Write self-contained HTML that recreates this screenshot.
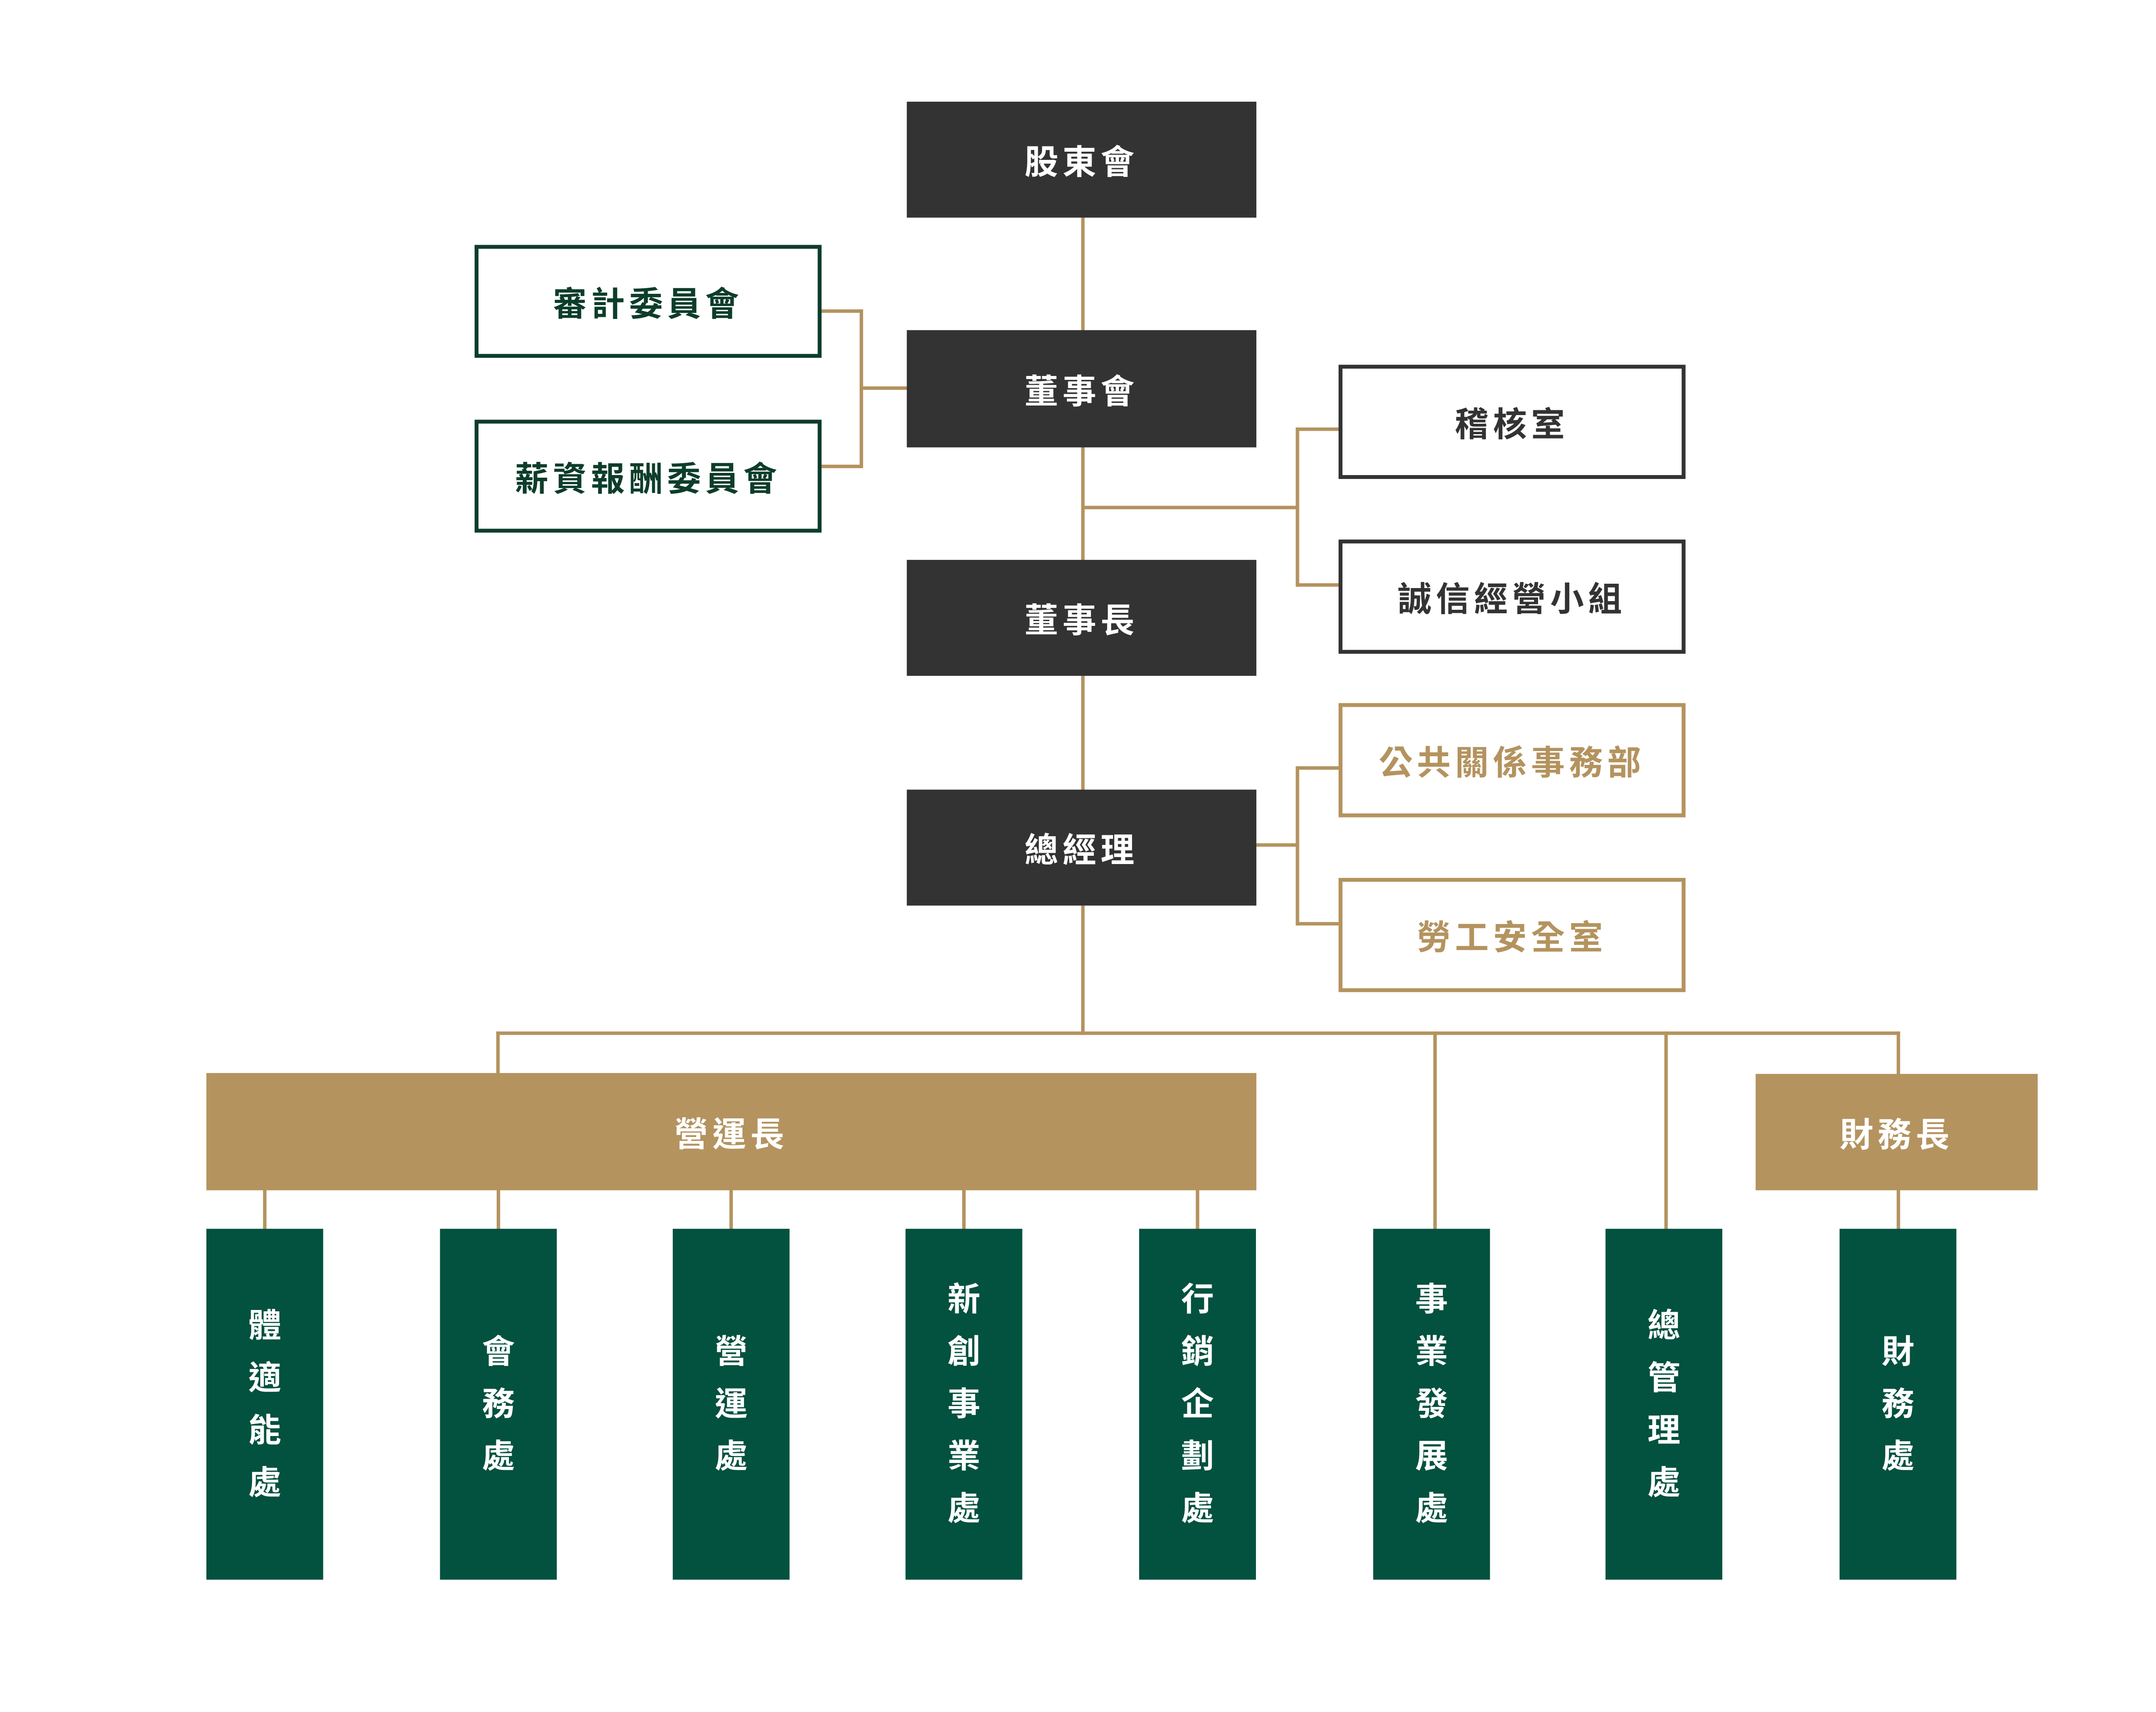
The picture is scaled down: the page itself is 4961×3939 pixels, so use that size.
<!DOCTYPE html>
<html><head><meta charset="utf-8"><style>
html,body{margin:0;padding:0;background:#fff;}
#o{position:relative;width:4961px;height:3939px;overflow:hidden;background:#fff;}
#c{position:absolute;left:0;top:0;width:4961px;height:3939px;transform:scale(0.9955);transform-origin:0 0;font-family:"Liberation Sans","Noto Sans CJK TC",sans-serif;font-weight:bold;}
.b{position:absolute;box-sizing:border-box;display:flex;align-items:center;justify-content:center;font-size:78px;letter-spacing:10px;}
.d{background:#333333;color:#fff;}
.g{border:9px solid #0d3d2b;color:#0d3d2b;background:#fff;}
.k{border:9px solid #333;color:#333;background:#fff;}
.o{border:9px solid #b4935f;color:#b4935f;background:#fff;}
.t{background:#b4935f;color:#fff;}
.v{background:#03513f;color:#fff;flex-direction:column;line-height:121px;font-size:76px;letter-spacing:0;}
.l{position:absolute;background:#b4935f;}
</style></head><body><div id="o"><div id="c">
<div class="l" style="left:2499px;top:503px;width:8px;height:1330px"></div>
<div class="l" style="left:2499px;top:2093px;width:8px;height:299px"></div>
<div class="l" style="left:1899px;top:715px;width:96px;height:8px"></div>
<div class="l" style="left:1899px;top:1074px;width:96px;height:8px"></div>
<div class="l" style="left:1987px;top:715px;width:8px;height:367px"></div>
<div class="l" style="left:1987px;top:893px;width:110px;height:8px"></div>
<div class="l" style="left:2503px;top:1169px;width:500px;height:8px"></div>
<div class="l" style="left:2995px;top:988px;width:8px;height:368px"></div>
<div class="l" style="left:2995px;top:988px;width:100px;height:8px"></div>
<div class="l" style="left:2995px;top:1348px;width:100px;height:8px"></div>
<div class="l" style="left:2904px;top:1949px;width:95px;height:8px"></div>
<div class="l" style="left:2995px;top:1771px;width:8px;height:368px"></div>
<div class="l" style="left:2995px;top:1771px;width:100px;height:8px"></div>
<div class="l" style="left:2995px;top:2131px;width:100px;height:8px"></div>
<div class="l" style="left:1147px;top:2384px;width:3245px;height:8px"></div>
<div class="l" style="left:1147px;top:2384px;width:8px;height:100px"></div>
<div class="l" style="left:3313px;top:2384px;width:8px;height:460px"></div>
<div class="l" style="left:3847px;top:2384px;width:8px;height:460px"></div>
<div class="l" style="left:4384px;top:2384px;width:8px;height:100px"></div>
<div class="l" style="left:4384px;top:2750px;width:8px;height:94px"></div>
<div class="l" style="left:608px;top:2750px;width:8px;height:94px"></div>
<div class="l" style="left:1148px;top:2750px;width:8px;height:94px"></div>
<div class="l" style="left:1686px;top:2750px;width:8px;height:94px"></div>
<div class="l" style="left:2224px;top:2750px;width:8px;height:94px"></div>
<div class="l" style="left:2764px;top:2750px;width:8px;height:94px"></div>
<div class="b d" style="left:2096px;top:235px;width:808px;height:268px">股東會</div>
<div class="b d" style="left:2096px;top:763px;width:808px;height:271px">董事會</div>
<div class="b d" style="left:2096px;top:1294px;width:808px;height:268px">董事長</div>
<div class="b d" style="left:2096px;top:1825px;width:808px;height:268px">總經理</div>
<div class="b g" style="left:1097px;top:566px;width:802px;height:261px">審計委員會</div>
<div class="b g" style="left:1097px;top:970px;width:802px;height:261px">薪資報酬委員會</div>
<div class="b k" style="left:3094px;top:843px;width:802px;height:264px">稽核室</div>
<div class="b k" style="left:3094px;top:1247px;width:802px;height:264px">誠信經營小組</div>
<div class="b o" style="left:3094px;top:1625px;width:802px;height:264px">公共關係事務部</div>
<div class="b o" style="left:3094px;top:2029px;width:802px;height:264px">勞工安全室</div>
<div class="b t" style="left:477px;top:2480px;width:2427px;height:271px">營運長</div>
<div class="b t" style="left:4058px;top:2482px;width:652px;height:269px">財務長</div>
<div class="b v" style="left:477px;top:2840px;width:270px;height:811px"><div>體</div><div>適</div><div>能</div><div>處</div></div>
<div class="b v" style="left:1017px;top:2840px;width:270px;height:811px"><div>會</div><div>務</div><div>處</div></div>
<div class="b v" style="left:1555px;top:2840px;width:270px;height:811px"><div>營</div><div>運</div><div>處</div></div>
<div class="b v" style="left:2093px;top:2840px;width:270px;height:811px"><div>新</div><div>創</div><div>事</div><div>業</div><div>處</div></div>
<div class="b v" style="left:2633px;top:2840px;width:270px;height:811px"><div>行</div><div>銷</div><div>企</div><div>劃</div><div>處</div></div>
<div class="b v" style="left:3174px;top:2840px;width:270px;height:811px"><div>事</div><div>業</div><div>發</div><div>展</div><div>處</div></div>
<div class="b v" style="left:3711px;top:2840px;width:270px;height:811px"><div>總</div><div>管</div><div>理</div><div>處</div></div>
<div class="b v" style="left:4252px;top:2840px;width:270px;height:811px"><div>財</div><div>務</div><div>處</div></div>
</div></div></body></html>
